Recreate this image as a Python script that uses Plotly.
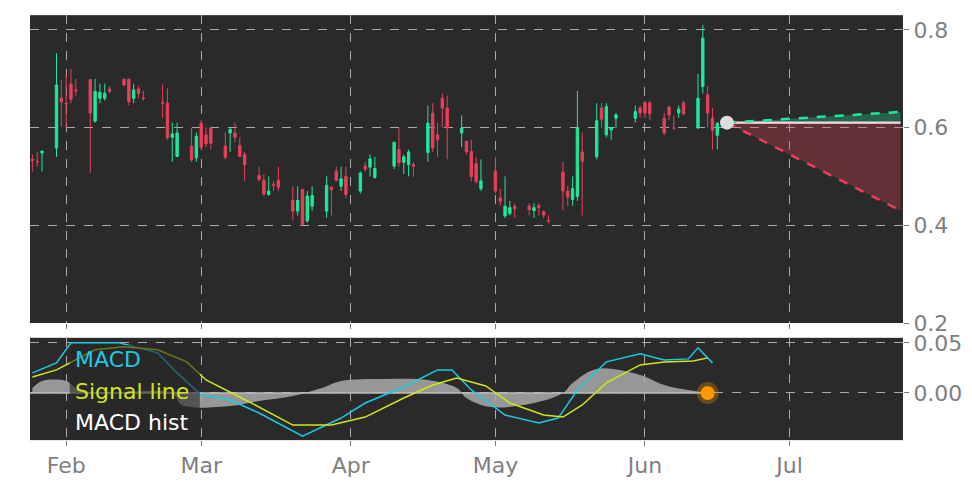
import plotly.graph_objects as go
from plotly.subplots import make_subplots

dates = ["2023-01-25","2023-01-26","2023-01-27","2023-01-30","2023-01-31","2023-02-01","2023-02-02","2023-02-03",
"2023-02-06","2023-02-07","2023-02-08","2023-02-09","2023-02-10","2023-02-13","2023-02-14","2023-02-15","2023-02-16","2023-02-17",
"2023-02-21","2023-02-22","2023-02-23","2023-02-24","2023-02-27","2023-02-28","2023-03-01","2023-03-02","2023-03-03",
"2023-03-06","2023-03-07","2023-03-08","2023-03-09","2023-03-10","2023-03-13","2023-03-14","2023-03-15","2023-03-16","2023-03-17",
"2023-03-20","2023-03-21","2023-03-22","2023-03-23","2023-03-24","2023-03-27","2023-03-28","2023-03-29","2023-03-30","2023-03-31",
"2023-04-03","2023-04-04","2023-04-05","2023-04-06","2023-04-10","2023-04-11","2023-04-12","2023-04-13","2023-04-14",
"2023-04-17","2023-04-18","2023-04-19","2023-04-20","2023-04-21","2023-04-24","2023-04-25","2023-04-26","2023-04-27","2023-04-28",
"2023-05-01","2023-05-02","2023-05-03","2023-05-04","2023-05-05","2023-05-08","2023-05-09","2023-05-10","2023-05-11","2023-05-12",
"2023-05-15","2023-05-16","2023-05-17","2023-05-18","2023-05-19","2023-05-22","2023-05-23","2023-05-24","2023-05-25","2023-05-26",
"2023-05-30","2023-05-31","2023-06-01","2023-06-02","2023-06-05","2023-06-06","2023-06-07","2023-06-08","2023-06-09",
"2023-06-12","2023-06-13","2023-06-14","2023-06-15","2023-06-16"]
opens = [.535,.531,.548,.558,.660,.650,.689,.677,.698,.613,.660,.660,.679,.699,.699,.660,.679,.661,
.651,.650,.580,.541,.562,.538,.609,.585,.599,.562,.589,.589,.563,.545,.502,.492,.463,.484,.492,
.451,.429,.473,.409,.439,.429,.478,.510,.480,.500,.470,.521,.519,.498,.521,.555,.529,.524,.524,
.549,.629,.585,.660,.640,.589,.572,.551,.526,.475,.511,.456,.419,.424,.439,.439,.430,.440,.428,.409,
.509,.470,.453,.459,.550,.540,.640,.585,.595,.619,.619,.640,.651,.650,.619,.642,.599,.630,.650,
.599,.684,.667,.619,.584]
closes = [.533,.530,.552,.687,.653,.649,.658,.675,.630,.674,.672,.670,.674,.687,.653,.677,.670,.660,
.650,.579,.587,.589,.534,.582,.560,.567,.568,.539,.596,.580,.541,.524,.494,.464,.470,.482,.478,
.429,.451,.402,.460,.461,.482,.473,.492,.495,.463,.507,.515,.536,.516,.570,.528,.540,.550,.521,
.609,.558,.575,.640,.599,.599,.551,.500,.490,.491,.470,.449,.439,.436,.434,.432,.436,.436,.421,.409,
.470,.458,.475,.599,.531,.614,.617,.643,.600,.626,.633,.630,.630,.628,.589,.626,.599,.638,.628,
.660,.783,.630,.594,.609]
highs = [.545,.55,.552,.752,.698,.71,.72,.70,.70,.70,.69,.69,.685,.70,.70,.69,.685,.675,
.688,.68,.61,.61,.60,.59,.615,.60,.60,.59,.60,.61,.58,.55,.52,.505,.50,.49,.52,
.48,.48,.475,.47,.48,.50,.48,.52,.52,.52,.51,.53,.545,.54,.57,.60,.545,.555,.53,
.645,.65,.61,.67,.665,.625,.57,.575,.54,.535,.54,.475,.50,.45,.445,.445,.445,.445,.43,.42,
.53,.48,.50,.675,.59,.65,.65,.65,.60,.63,.645,.645,.655,.655,.63,.645,.625,.645,.655,
.71,.81,.685,.64,.61]
lows = [.51,.52,.51,.54,.602,.60,.65,.665,.507,.61,.65,.655,.67,.685,.645,.65,.66,.655,
.62,.575,.53,.54,.53,.53,.555,.56,.555,.535,.55,.57,.54,.49,.49,.46,.46,.47,.47,
.41,.42,.40,.405,.43,.415,.42,.49,.47,.455,.465,.51,.50,.495,.515,.52,.505,.50,.50,
.53,.55,.54,.60,.535,.56,.545,.49,.485,.47,.465,.44,.415,.42,.415,.42,.415,.42,.415,.405,
.43,.44,.44,.45,.42,.535,.60,.58,.575,.60,.61,.62,.62,.615,.585,.615,.595,.62,.625,
.598,.67,.60,.555,.555]

macd_dates = ["2023-01-25","2023-01-30","2023-02-02","2023-02-12","2023-02-20","2023-02-24","2023-03-01","2023-03-07",
"2023-03-13","2023-03-22","2023-03-30","2023-04-04","2023-04-12","2023-04-19","2023-04-22","2023-04-26","2023-05-03",
"2023-05-10","2023-05-14","2023-05-18","2023-05-24","2023-05-31","2023-06-05","2023-06-10","2023-06-12","2023-06-15"]
macd_vals = [.020,.030,.050,.050,.040,.020,-.002,-.007,-.020,-.043,-.025,-.010,.006,.023,.023,.003,-.022,
-.030,-.025,.003,.031,.039,.033,.034,.045,.030]
sig_dates = ["2023-01-25","2023-01-30","2023-02-07","2023-02-13","2023-02-20","2023-02-26","2023-03-02","2023-03-11",
"2023-03-20","2023-03-28","2023-04-04","2023-04-12","2023-04-18","2023-04-23","2023-04-29","2023-05-04","2023-05-11",
"2023-05-15","2023-05-19","2023-05-24","2023-05-31","2023-06-05","2023-06-11","2023-06-14"]
sig_vals = [.016,.023,.043,.046,.043,.031,.013,-.009,-.032,-.032,-.024,-.005,.008,.015,.007,-.010,-.022,
-.024,-.012,.010,.028,.031,.032,.035]
hist_dates = ["2023-01-25","2023-01-27","2023-02-01","2023-02-03","2023-02-07","2023-02-23","2023-02-25","2023-03-07",
"2023-03-13","2023-03-20","2023-03-26","2023-03-30","2023-04-08","2023-04-17","2023-04-23","2023-04-25","2023-04-30",
"2023-05-09","2023-05-15","2023-05-17","2023-05-22","2023-05-31","2023-06-05","2023-06-10","2023-06-15"]
hist_vals = [.005,.012,.012,.005,0,0,-.012,-.013,-.008,-.003,.005,.012,.014,.013,.005,-.005,-.014,
-.010,0,.010,.024,.018,.008,.003,0]
zero_dates = ["2023-01-24","2023-06-15"]
zero_vals = [0, 0]

fc_dates = ["2023-06-18","2023-07-24"]
fc_mid = [0.61,0.61]
fc_up = [0.61,0.632]
fc_low = [0.61,0.43]
dot_date, dot_val = "2023-06-18", 0.61
macd_dot_date, macd_dot_val = "2023-06-14", 0.0

GREEN = "#1de99b"; RED = "#e8405a"
fig = make_subplots(rows=2, cols=1, shared_xaxes=True)
fig.add_trace(go.Candlestick(x=dates, open=opens, high=highs, low=lows, close=closes,
    increasing=dict(line=dict(color=GREEN, width=1), fillcolor=GREEN),
    decreasing=dict(line=dict(color=RED, width=1), fillcolor=RED), whiskerwidth=0), 1, 1)
fig.add_trace(go.Scatter(x=fc_dates, y=fc_mid, mode="lines", line=dict(color="#e8e8e8", width=2.5)), 1, 1)
fig.add_trace(go.Scatter(x=fc_dates, y=fc_up, mode="lines", line=dict(color=GREEN, width=2.5, dash="dash"),
    fill="tonexty", fillcolor="rgba(29,233,155,0.3)"), 1, 1)
fig.add_trace(go.Scatter(x=fc_dates, y=fc_mid, mode="lines", line=dict(width=0), hoverinfo="skip"), 1, 1)
fig.add_trace(go.Scatter(x=fc_dates, y=fc_low, mode="lines", line=dict(color=RED, width=2.5, dash="dash"),
    fill="tonexty", fillcolor="rgba(232,64,90,0.3)"), 1, 1)
fig.add_trace(go.Scatter(x=[dot_date], y=[dot_val], mode="markers", marker=dict(color="#dddddd", size=14)), 1, 1)

fig.add_trace(go.Scatter(x=hist_dates, y=hist_vals, mode="lines", line=dict(width=0, shape="spline"),
    fill="tozeroy", fillcolor="rgba(170,170,170,0.85)"), 2, 1)
fig.add_trace(go.Scatter(x=zero_dates, y=zero_vals, mode="lines", line=dict(color="#bbbbbb", width=1.5)), 2, 1)
fig.add_trace(go.Scatter(x=macd_dates, y=macd_vals, mode="lines", line=dict(color="#1ec8e6", width=1.5)), 2, 1)
fig.add_trace(go.Scatter(x=sig_dates, y=sig_vals, mode="lines", line=dict(color="#d4e61a", width=1.5)), 2, 1)
fig.add_trace(go.Scatter(x=[macd_dot_date], y=[macd_dot_val], mode="markers",
    marker=dict(color="#ff9900", size=14, line=dict(color="rgba(255,153,0,0.3)", width=8))), 2, 1)

grid = dict(showgrid=True, gridcolor="#aaaaaa", griddash="dash", gridwidth=1, zeroline=False, automargin=False)
fig.update_layout(width=964, height=478, margin=dict(l=0, r=0, t=0, b=0, autoexpand=False), paper_bgcolor="white",
    plot_bgcolor="#2a2a2a", showlegend=False, font=dict(family="DejaVu Sans", color="#808080", size=22))
fig.update_xaxes(domain=[0.0228, 0.9284], range=["2023-01-24 12:00", "2023-07-24 12:00"], rangeslider_visible=False,
    tickformat="%b", dtick="M1", tick0="2023-02-01", ticks="outside", ticklen=5, tickcolor="#777777", **grid)
fig.update_xaxes(showticklabels=False, row=1, col=1)
fig.update_yaxes(side="right", ticks="outside", ticklen=5, tickcolor="#777777", **grid)
fig.update_yaxes(domain=[0.341, 0.985], range=[0.2, 0.83], tickvals=[0.2, 0.4, 0.6, 0.8], tickformat=".1f", row=1, col=1)
fig.update_yaxes(domain=[0.096, 0.310], range=[-0.047, 0.055], tickvals=[0, 0.05], tickformat=".2f", row=2, col=1)

fig.add_shape(type="rect", xref="paper", yref="paper", x0=0.064, x1=0.199, y0=0.096, y1=0.295,
    fillcolor="rgba(40,40,40,0.6)", line=dict(width=0))
for txt, col, yy in [("MACD", "#1ec8e6", 0.264), ("Signal line", "#d4e61a", 0.197), ("MACD hist", "#ffffff", 0.132)]:
    fig.add_annotation(text=txt, xref="paper", yref="paper", x=0.0675, y=yy, xanchor="left", yanchor="middle",
        showarrow=False, font=dict(color=col, size=22))
fig.write_html("out.html")
